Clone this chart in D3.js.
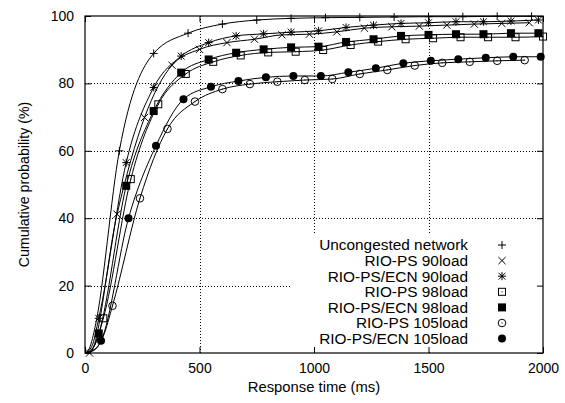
<!DOCTYPE html>
<html>
<head>
<meta charset="utf-8">
<script src="https://cdn.jsdelivr.net/npm/d3@7"></script>
<style>
  html, body { margin: 0; padding: 0; background: #fff; }
  svg { display: block; }
  text { font-family: "Liberation Sans", Arial, Helvetica, sans-serif; fill: #000; }
</style>
</head>
<body>
<svg id="chart" width="565" height="403"></svg>
<script>
// ---------------- data ----------------
const xTicks = [0, 500, 1000, 1500, 2000];
const yTicks = [0, 20, 40, 60, 80, 100];
const xLabel = "Response time (ms)";
const yLabel = "Cumulative probability (%)";

const seriesNames = [
  "Uncongested network",
  "RIO-PS 90load",
  "RIO-PS/ECN 90load",
  "RIO-PS 98load",
  "RIO-PS/ECN 98load",
  "RIO-PS 105load",
  "RIO-PS/ECN 105load"
];
const seriesSymbols = ["plus", "cross", "star", "openSquare", "filledSquare", "openCircle", "filledCircle"];

// line lead-in points (no markers)
const uncongestedLead = [[0, 0], [20, 1.5], [45, 8]];
const rioPs90Lead = [[0, 0]];
const rioEcn90Lead = [[0, 0], [30, 2]];
const rioPs98Lead = [[0, 0], [40, 2]];
const rioEcn98Lead = [[0, 0], [30, 1]];
const rioPs105Lead = [[0, 0], [50, 1.5], [80, 5]];
const rioEcn105Lead = [[0, 0], [40, 0.8]];

// marker points [ms, %]
const uncongested = [[150, 60], [300, 88.9], [450, 94.9], [600, 97.6], [750, 98.8], [900, 99.3],
  [1050, 99.5], [1200, 99.6], [1350, 99.7], [1500, 99.8], [1650, 99.8], [1800, 99.9], [1950, 99.9]];
const rioPs90 = [[20, 0], [140, 41.2], [260, 69.9], [380, 85.4], [500, 90.1], [620, 92.1], [740, 93.1],
  [860, 94.4], [980, 94.6], [1100, 95.3], [1220, 96.4], [1340, 96.8], [1460, 97.0], [1580, 97.3],
  [1700, 97.6], [1820, 97.8], [1940, 98.0]];
const rioEcn90 = [[60, 10.3], [180, 56.5], [300, 78.8], [420, 88.1], [540, 92.1], [660, 94.1], [780, 94.7],
  [900, 95.2], [1020, 95.6], [1140, 96.6], [1260, 97.3], [1380, 97.8], [1500, 98.0], [1620, 98.3],
  [1740, 98.3], [1860, 98.5], [1980, 98.8]];
const rioPs98 = [[80, 10.3], [200, 51.6], [320, 73.8], [440, 82.8], [560, 86.4], [680, 88.3], [800, 89.2],
  [920, 89.4], [1040, 89.9], [1160, 91.4], [1280, 92.4], [1400, 93.1], [1520, 93.4], [1640, 93.7],
  [1760, 93.7], [1880, 93.7], [2000, 93.9]];
const rioEcn98 = [[60, 5.8], [180, 49.6], [300, 71.8], [420, 83.2], [540, 87.1], [660, 89.1], [780, 90.1],
  [900, 90.7], [1020, 90.9], [1140, 92.3], [1260, 93.1], [1380, 94.1], [1500, 94.4], [1620, 94.6],
  [1740, 94.6], [1860, 94.9], [1980, 94.9]];
const rioPs105 = [[120, 14.0], [240, 45.9], [360, 66.5], [480, 74.6], [600, 78.3], [720, 79.8], [840, 80.5],
  [960, 81.0], [1080, 81.3], [1200, 82.8], [1320, 84.0], [1440, 85.3], [1560, 86.1], [1680, 86.4],
  [1800, 86.7], [1920, 86.9]];
const rioEcn105 = [[70, 3.6], [190, 40.0], [310, 61.5], [430, 75.3], [550, 79.0], [670, 80.7], [790, 81.8],
  [910, 82.2], [1030, 82.2], [1150, 83.3], [1270, 84.5], [1390, 86.0], [1510, 86.7], [1630, 87.2],
  [1750, 87.6], [1870, 87.9], [1990, 87.9]];

const leads = [uncongestedLead, rioPs90Lead, rioEcn90Lead, rioPs98Lead, rioEcn98Lead, rioPs105Lead, rioEcn105Lead];
const points = [uncongested, rioPs90, rioEcn90, rioPs98, rioEcn98, rioPs105, rioEcn105];

// ---------------- layout ----------------
(function () {
const pL = 85, pR = 543, pT = 16, pB = 353;
const svg = d3.select("#chart");
const x = d3.scaleLinear().domain([0, 2000]).range([pL, pR]);
const y = d3.scaleLinear().domain([0, 100]).range([pB, pT]);

// grid (dotted)
const grid = svg.append("g").attr("stroke", "#000").attr("stroke-width", 1)
  .attr("stroke-dasharray", "1,2").attr("shape-rendering", "crispEdges");
xTicks.slice(1, -1).forEach(t => {
  grid.append("line").attr("x1", Math.round(x(t)) + 0.5).attr("x2", Math.round(x(t)) + 0.5)
    .attr("y1", pT).attr("y2", pB);
});
yTicks.slice(1, -1).forEach(t => {
  grid.append("line").attr("x1", pL).attr("x2", pR)
    .attr("y1", Math.round(y(t)) + 0.5).attr("y2", Math.round(y(t)) + 0.5);
});

// legend background (white, hides grid)
const legendX = 292, legendTop = 233;
svg.append("rect").attr("x", legendX).attr("y", legendTop)
  .attr("width", pR - legendX - 1).attr("height", pB - legendTop - 1).attr("fill", "#fff");

// axes with inward ticks + mirrored ticks
const tickLen = 6;
const fmt = d3.format("d");
const axisBottom = d3.axisBottom(x).tickValues(xTicks).tickFormat(fmt).tickSizeInner(-tickLen).tickSizeOuter(0).tickPadding(10);
const axisTop = d3.axisTop(x).tickValues(xTicks).tickSizeInner(-tickLen).tickSizeOuter(0).tickFormat("");
const axisLeft = d3.axisLeft(y).tickValues(yTicks).tickFormat(fmt).tickSizeInner(-tickLen).tickSizeOuter(0).tickPadding(11);
const axisRight = d3.axisRight(y).tickValues(yTicks).tickSizeInner(-tickLen).tickSizeOuter(0).tickFormat("");

function styleAxis(g) {
  g.select(".domain").remove();
  g.selectAll("line").attr("stroke", "#000");
  g.selectAll("text").attr("font-size", 14).attr("font-family", "Liberation Sans, Arial, sans-serif").attr("fill", "#000");
}
svg.append("g").attr("transform", `translate(0,${pB})`).call(axisBottom).call(styleAxis);
svg.append("g").attr("transform", `translate(0,${pT})`).call(axisTop).call(styleAxis);
svg.append("g").attr("transform", `translate(${pL},0)`).call(axisLeft).call(styleAxis);
svg.append("g").attr("transform", `translate(${pR},0)`).call(axisRight).call(styleAxis);

// frame
svg.append("rect").attr("x", pL).attr("y", pT).attr("width", pR - pL).attr("height", pB - pT)
  .attr("fill", "none").attr("stroke", "#000").attr("stroke-width", 1.2);

// axis titles
svg.append("text").attr("x", (pL + pR) / 2).attr("y", 392).attr("text-anchor", "middle")
  .attr("font-size", 14.8).text(xLabel);
svg.append("text").attr("transform", `translate(29,${(pT + pB) / 2}) rotate(-90)`)
  .attr("text-anchor", "middle").attr("font-size", 14.2).text(yLabel);

// symbols
function drawSymbol(g, type, cx, cy) {
  const s = 4;
  if (type === "plus") {
    g.append("path").attr("d", `M${cx - s},${cy}H${cx + s}M${cx},${cy - s}V${cy + s}`)
      .attr("stroke", "#000").attr("stroke-width", 1).attr("fill", "none");
  } else if (type === "cross") {
    const a = 3.6;
    g.append("path").attr("d", `M${cx - a},${cy - a}L${cx + a},${cy + a}M${cx - a},${cy + a}L${cx + a},${cy - a}`)
      .attr("stroke", "#000").attr("stroke-width", 1).attr("fill", "none");
  } else if (type === "star") {
    const a = 3.4;
    g.append("path").attr("d", `M${cx - a},${cy - a}L${cx + a},${cy + a}M${cx - a},${cy + a}L${cx + a},${cy - a}M${cx - s},${cy}H${cx + s}M${cx},${cy - s}V${cy + s}`)
      .attr("stroke", "#000").attr("stroke-width", 1).attr("fill", "none");
  } else if (type === "openSquare") {
    g.append("rect").attr("x", cx - 3.5).attr("y", cy - 3.5).attr("width", 7).attr("height", 7)
      .attr("fill", "none").attr("stroke", "#000").attr("stroke-width", 1);
    g.append("rect").attr("x", cx - 0.5).attr("y", cy - 0.5).attr("width", 1).attr("height", 1).attr("fill", "#000");
  } else if (type === "filledSquare") {
    g.append("rect").attr("x", cx - 4).attr("y", cy - 4).attr("width", 8).attr("height", 8).attr("fill", "#000");
  } else if (type === "openCircle") {
    g.append("circle").attr("cx", cx).attr("cy", cy).attr("r", 3.8)
      .attr("fill", "none").attr("stroke", "#000").attr("stroke-width", 1);
    g.append("rect").attr("x", cx - 0.5).attr("y", cy - 0.5).attr("width", 1).attr("height", 1).attr("fill", "#000");
  } else if (type === "filledCircle") {
    g.append("circle").attr("cx", cx).attr("cy", cy).attr("r", 4).attr("fill", "#000");
  }
}

// series lines and markers
const line = d3.line().x(d => x(d[0])).y(d => y(d[1])).curve(d3.curveMonotoneX);
const plot = svg.append("g");
points.forEach((pts, i) => {
  const all = leads[i].concat(pts);
  plot.append("path").datum(all).attr("d", line)
    .attr("fill", "none").attr("stroke", "#000").attr("stroke-width", 1);
  const mg = plot.append("g");
  pts.forEach(p => drawSymbol(mg, seriesSymbols[i], x(p[0]), y(p[1])));
});

// legend
const legendTextX = 468, legendSymX = 502, legendRow0 = 245, legendStep = 15.6;
seriesNames.forEach((name, i) => {
  const cy = legendRow0 + i * legendStep;
  svg.append("text").attr("x", legendTextX).attr("y", cy).attr("dy", "0.35em")
    .attr("text-anchor", "end").attr("font-size", 15.4).text(name);
  drawSymbol(svg, seriesSymbols[i], legendSymX, cy);
});
})();
</script>
</body>
</html>
